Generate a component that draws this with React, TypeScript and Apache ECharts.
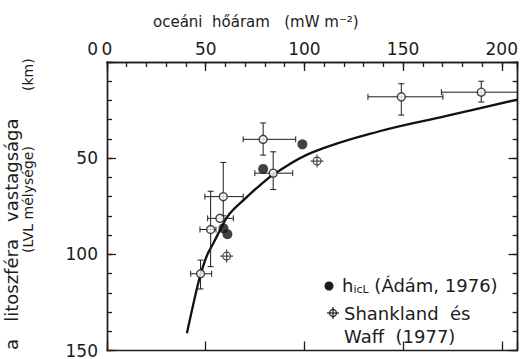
import React, { useEffect, useRef } from "react";
import * as echarts from "echarts";

// curve (fitted relation): [heat flow, depth]
const curveX = [40.5, 43.5, 47, 50.5, 54, 58, 62, 70, 77, 85, 104, 138, 172, 208];
const curveY = [141, 127, 112, 101, 94, 86, 79, 71, 64.5, 58, 47, 36, 28, 19.5];

// open circles with error bars: x, y, xlo, xhi, ylo, yhi
const openX = [79.1, 84.2, 58.9, 57.2, 52.5, 47.4, 149.1, 189.6];
const openY = [40.2, 57.8, 70, 81.3, 87.1, 110.1, 18.1, 15.7];
const openXlo = [69, 74.9, 49.6, 51, 47.1, 42.4, 132.2, 169.4];
const openXhi = [95.6, 94.1, 69, 64, 55.2, 53, 170.2, 208];
const openYlo = [31.7, 46.7, 52.2, 81.3, 67.2, 103, 11.3, 10];
const openYhi = [48.4, 66.3, 80, 81.3, 106.4, 118, 27.6, 20.8];

// h_icL (Ádám, 1976) filled circles
const adamX = [99, 79.1, 59, 61];
const adamY = [42.8, 55.6, 86.5, 89.5];

// Shankland és Waff (1977)
const swX = [106.4, 60.6];
const swY = [51.5, 100.9];

const xTicks = [0, 50, 100, 150, 200];
const yTicks = [0, 50, 100, 150];

const FONT = "DejaVu Sans";
const INK = "#1c1c1c";
const CROSS =
  "path://M0,-10L0,10M-10,0L10,0M6,0A6,6,0,1,1,-6,0A6,6,0,1,1,6,0Z";

export default function App() {
  const ref = useRef<HTMLDivElement>(null);
  useEffect(() => {
    if (!ref.current) return;
    const chart = echarts.init(ref.current, null, { renderer: "svg" });
    const mkAxis = (position: string, interval: number, tickLen: number, max: number, inverse: boolean, label: any) => ({
      type: "value",
      position,
      min: 0,
      max,
      interval,
      inverse,
      axisLine: { show: true, onZero: false, lineStyle: { color: INK, width: 1.4 } },
      splitLine: { show: false },
      axisTick: { show: true, inside: true, length: tickLen, lineStyle: { color: INK, width: 1.3 } },
      axisLabel: label || { show: false },
    });
    const labelStyle = { color: INK, fontFamily: FONT, fontSize: 17 };
    const errData = openX.map((x, i) => [x, openY[i], openXlo[i], openXhi[i], openYlo[i], openYhi[i]]);
    const textStyle = (size: number) => ({
      fill: INK,
      font: `${size}px "${FONT}"`,
      align: "left",
      verticalAlign: "middle",
    });
    chart.setOption({
      animation: false,
      backgroundColor: "#fff",
      grid: { left: 107, right: 3, top: 62, bottom: 3 },
      xAxis: [
        mkAxis("top", 50, 9, 208, false, {
          ...labelStyle,
          margin: 5,
          formatter: (v: number) => (xTicks.includes(v) ? String(v) : ""),
        }),
        mkAxis("top", 10, 5, 208, false, null),
        mkAxis("bottom", 50, 9, 208, false, null),
      ],
      yAxis: [
        mkAxis("left", 50, 9, 150, true, {
          ...labelStyle,
          margin: 9,
          formatter: (v: number) => (v === 0 ? "{z|0}" : yTicks.includes(v) ? String(v) : ""),
          rich: { z: { ...labelStyle, padding: [0, 0, 26, 0] } },
        }),
        mkAxis("left", 10, 5, 150, true, null),
        mkAxis("right", 50, 9, 150, true, null),
        mkAxis("right", 10, 5, 150, true, null),
      ],
      graphic: [
        {
          type: "text",
          x: 153,
          y: 22,
          style: { ...textStyle(15), text: "oceáni  hőáram   (mW m⁻²)" },
        },
        {
          type: "text",
          x: 11,
          y: 350,
          rotation: Math.PI / 2,
          style: { ...textStyle(18), text: "a   litoszféra   vastagsága" },
        },
        {
          type: "text",
          x: 28,
          y: 253,
          rotation: Math.PI / 2,
          style: { ...textStyle(14), text: "(LVL mélysége)" },
        },
        {
          type: "text",
          x: 28,
          y: 91,
          rotation: Math.PI / 2,
          style: { ...textStyle(14), text: "(km)" },
        },
        {
          type: "circle",
          shape: { cx: 329, cy: 286, r: 4.5 },
          style: { fill: INK },
        },
        {
          type: "text",
          x: 342,
          y: 285,
          style: {
            ...textStyle(18),
            text: "h{s|icL} (Ádám, 1976)",
            lineHeight: 20,
            rich: {
              s: { fontSize: 11, fontFamily: FONT, fill: INK, verticalAlign: "bottom", lineHeight: 13 },
            },
          },
        },
        {
          type: "group",
          x: 333,
          y: 313,
          children: [
            { type: "circle", shape: { cx: 0, cy: 0, r: 3.5 }, style: { fill: "none", stroke: INK, lineWidth: 1.2 } },
            { type: "line", shape: { x1: -6, y1: 0, x2: 6, y2: 0 }, style: { stroke: INK, lineWidth: 1.2 } },
            { type: "line", shape: { x1: 0, y1: -6, x2: 0, y2: 6 }, style: { stroke: INK, lineWidth: 1.2 } },
          ],
        },
        {
          type: "text",
          x: 344,
          y: 313,
          style: { ...textStyle(18), text: "Shankland  és" },
        },
        {
          type: "text",
          x: 344,
          y: 336,
          style: { ...textStyle(18), text: "Waff  (1977)" },
        },
      ],
      series: [
        {
          type: "line",
          data: curveX.map((x, i) => [x, curveY[i]]),
          smooth: 0.4,
          symbol: "none",
          lineStyle: { color: "#111", width: 2.3 },
          z: 2,
        },
        {
          type: "custom",
          data: errData,
          z: 3,
          renderItem: (params: any, api: any) => {
            const c = api.coord([api.value(0), api.value(1)]);
            const xl = api.coord([api.value(2), api.value(1)])[0];
            const xh = api.coord([api.value(3), api.value(1)])[0];
            const yl = api.coord([api.value(0), api.value(4)])[1];
            const yh = api.coord([api.value(0), api.value(5)])[1];
            const st = { stroke: INK, lineWidth: 1 };
            const cap = 3;
            const children: any[] = [];
            if (xh - xl > 1) {
              children.push({ type: "line", shape: { x1: xl, y1: c[1], x2: xh, y2: c[1] }, style: st });
              children.push({ type: "line", shape: { x1: xl, y1: c[1] - cap, x2: xl, y2: c[1] + cap }, style: st });
              children.push({ type: "line", shape: { x1: xh, y1: c[1] - cap, x2: xh, y2: c[1] + cap }, style: st });
            }
            if (Math.abs(yh - yl) > 1) {
              children.push({ type: "line", shape: { x1: c[0], y1: yl, x2: c[0], y2: yh }, style: st });
              children.push({ type: "line", shape: { x1: c[0] - cap, y1: yl, x2: c[0] + cap, y2: yl }, style: st });
              children.push({ type: "line", shape: { x1: c[0] - cap, y1: yh, x2: c[0] + cap, y2: yh }, style: st });
            }
            return { type: "group", children };
          },
        },
        {
          type: "scatter",
          name: "open",
          data: openX.map((x, i) => [x, openY[i]]),
          symbol: "circle",
          symbolSize: 8,
          itemStyle: { color: "#fff", borderColor: INK, borderWidth: 1.4 },
          z: 4,
        },
        {
          type: "scatter",
          name: "h_icL (Ádám, 1976)",
          data: adamX.map((x, i) => [x, adamY[i]]),
          symbol: "circle",
          symbolSize: 10,
          itemStyle: { color: "#111" },
          z: 5,
        },
        {
          type: "scatter",
          name: "Shankland és Waff (1977)",
          data: swX.map((x, i) => [x, swY[i]]),
          symbol: CROSS,
          symbolSize: 13,
          itemStyle: { color: "transparent", borderColor: INK, borderWidth: 1.2 },
          z: 5,
        },
      ],
    });
    return () => chart.dispose();
  }, []);
  return <div ref={ref} style={{ width: 521, height: 359, position: "absolute", left: 0, top: 0 }} />;
}
